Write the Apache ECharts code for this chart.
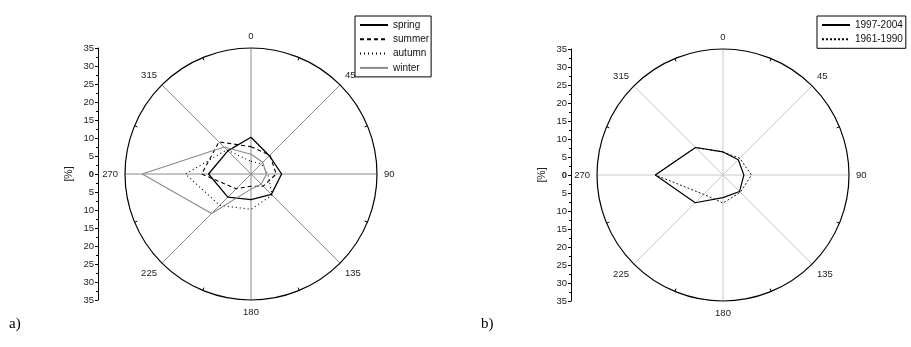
<!DOCTYPE html>
<html>
<head>
<meta charset="utf-8">
<script src="https://cdn.jsdelivr.net/npm/echarts@6/dist/echarts.min.js"></script>
<style>
html,body{margin:0;padding:0;background:#fff;}
#c{width:911px;height:347px;}
</style>
</head>
<body>
<div id="c"></div>
<script>
// Directions (degrees) and values in %
const directions = [0, 45, 90, 135, 180, 225, 270, 315];
const spring = [10.2, 7.2, 8.5, 8.0, 7.1, 9.1, 11.8, 9.1];
const summer = [7.6, 7.4, 7.0, 4.8, 3.4, 5.8, 13.7, 12.6];
const autumn = [3.5, 4.0, 4.7, 8.3, 9.8, 12.3, 18.2, 9.5];
const winter = [5.5, 4.6, 4.3, 4.0, 4.2, 15.5, 30.2, 10.6];
const period1997 = [6.4, 6.0, 5.8, 6.5, 6.3, 10.9, 18.8, 10.8];
const period1961 = [6.4, 6.6, 7.9, 6.8, 7.8, 7.6, 18.8, 10.8];
const angleTicks = [0, 45, 90, 135, 180, 225, 270, 315];
const scaleMax = 35;

const FONT = 'Liberation Sans';

function closed(vals) {
  const d = directions.map((a, i) => [vals[i], a]);
  d.push([vals[0], directions[0]]);
  return d;
}

function angleAxis(idx, spokeColor) {
  return {
    polarIndex: idx,
    type: 'value', min: 0, max: 360, interval: 45,
    startAngle: 90, clockwise: true,
    axisLine: {show: true, lineStyle: {color: '#000', width: 1.2}},
    axisTick: {show: false, inside: true},
    minorTick: {show: true, splitNumber: 2, length: 3, lineStyle: {color: '#000', width: 1}},
    axisLabel: {show: true, margin: 7, color: '#222', fontSize: 9.5, fontFamily: FONT,
      formatter: v => angleTicks.indexOf(v) >= 0 ? String(v) : ''},
    splitLine: {show: true, lineStyle: {color: spokeColor, width: 1}}
  };
}
function radiusAxis(idx) {
  return {
    polarIndex: idx, type: 'value', min: 0, max: scaleMax,
    axisLine: {show: false}, axisTick: {show: false}, axisLabel: {show: false},
    splitLine: {show: false}
  };
}
function scaleY(idx) {
  return {
    gridIndex: idx, type: 'value', min: -scaleMax, max: scaleMax, interval: 5,
    axisLine: {show: true, lineStyle: {color: '#000', width: 1}},
    axisTick: {show: true, length: 3, lineStyle: {color: '#000'}},
    minorTick: {show: true, splitNumber: 2, length: 2, lineStyle: {color: '#000'}},
    splitLine: {show: false},
    axisLabel: {margin: 4, color: '#222', fontSize: 9.5, fontFamily: FONT,
      formatter: v => v === 0 ? '{b|0}' : String(Math.abs(v)),
      rich: {b: {fontWeight: 'bold', fontSize: 9.5, fontFamily: FONT, color: '#222'}}},
    name: '[%]', nameLocation: 'middle', nameRotate: 90, nameGap: 23,
    nameTextStyle: {color: '#222', fontSize: 10.5, fontFamily: FONT}
  };
}

const line = (name, polarIndex, vals, color, type, width) => ({
  name, type: 'line', coordinateSystem: 'polar', polarIndex,
  data: closed(vals), symbol: 'none', silent: true, animation: false,
  lineStyle: {color, type, width}, itemStyle: {color}
});

const legendBase = {
  orient: 'vertical', itemWidth: 28, itemHeight: 10,
  borderColor: '#000', borderWidth: 1,
  itemStyle: {opacity: 0, color: 'rgba(0,0,0,0)', borderWidth: 0},
  textStyle: {fontSize: 10, color: '#111', fontFamily: FONT}
};

const option = {
  animation: false,
  backgroundColor: '#fff',
  textStyle: {fontFamily: FONT},
  polar: [
    {center: [251, 174], radius: 126},
    {center: [723, 175], radius: 126}
  ],
  angleAxis: [angleAxis(0, '#8a8a8a'), angleAxis(1, '#c8c8c8')],
  radiusAxis: [radiusAxis(0), radiusAxis(1)],
  grid: [
    {left: 98, top: 48, width: 1, height: 252},
    {left: 571, top: 49, width: 1, height: 252}
  ],
  xAxis: [{gridIndex: 0, show: false}, {gridIndex: 1, show: false}],
  yAxis: [scaleY(0), scaleY(1)],
  legend: [
    Object.assign({}, legendBase, {
      data: ['spring', 'summer', 'autumn', 'winter'],
      left: 355, top: 16, itemGap: 4.3, padding: [4, 2, 4, 4]}),
    Object.assign({}, legendBase, {
      data: ['1997-2004', '1961-1990'],
      left: 817, top: 16, itemGap: 4.3, padding: [4, 3, 4, 4]})
  ],
  title: [
    {text: 'a)', left: 4, top: 312, textStyle: {fontSize: 15, fontWeight: 'normal', color: '#000', fontFamily: 'Liberation Serif'}},
    {text: 'b)', left: 476, top: 312, textStyle: {fontSize: 15, fontWeight: 'normal', color: '#000', fontFamily: 'Liberation Serif'}}
  ],
  series: [
    line('spring', 0, spring, '#000', 'solid', 1.3),
    line('summer', 0, summer, '#000', [4, 3], 1.1),
    line('autumn', 0, autumn, '#000', [1, 3], 1.1),
    line('winter', 0, winter, '#8a8a8a', 'solid', 1.1),
    line('1997-2004', 1, period1997, '#000', 'solid', 1.2),
    line('1961-1990', 1, period1961, '#000', [2, 2], 0.9)
  ]
};

const chart = echarts.init(document.getElementById('c'), null, {renderer: 'canvas'});
chart.setOption(option);
</script>
</body>
</html>
